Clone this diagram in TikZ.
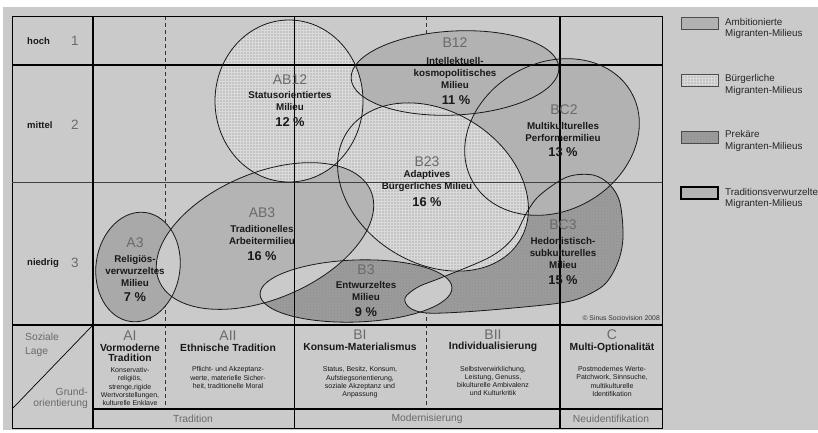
\documentclass[tikz,border=0pt]{standalone}
\usepackage{fontspec}
\usetikzlibrary{patterns}
\setmainfont{Liberation Sans}
\definecolor{bgc}{RGB}{202,202,202}
\definecolor{ambc}{RGB}{178,178,178}
\definecolor{prec}{RGB}{156,156,156}
\definecolor{trac}{RGB}{180,180,180}
\definecolor{codegray}{RGB}{106,106,106}
\colorlet{burgc}{bgc!97!black}
\colorlet{burgtex}{bgc!70!white}
\colorlet{ovlc}{bgc}
\newcommand\shAthree{(138,267) ellipse [x radius=42pt, y radius=55pt, rotate=-8]}
\newcommand\shABthree{(265,236) ellipse [x radius=115pt, y radius=63pt, rotate=23]}
\newcommand\shBthree{(356,291) ellipse [x radius=96pt, y radius=31pt, rotate=2]}
\newcommand\shBCthree{plot[smooth cycle, tension=0.55] coordinates {(405,298) (418,287) (443,277) (490,257) (513,238) (527,212) (540,195) (567,177) (593,175) (610,185) (620,203) (623,237) (618,262) (605,284) (583,297) (560,303) (513,308) (463,312) (427,313) (410,308)}}
\newcommand\shBCtwo{(552,137) ellipse [x radius=91pt, y radius=74pt, rotate=29]}
\newcommand\shBtwelve{(455,73) ellipse [x radius=104pt, y radius=42pt, rotate=3]}
\newcommand\shABtwelve{(289,101) ellipse [x radius=74pt, y radius=81pt]}
\newcommand\shBtwentythree{(433,187) ellipse [x radius=102pt, y radius=76pt, rotate=-32]}
\begin{document}
\begin{tikzpicture}[x=1pt,y=-1pt,
  outl/.style={draw=black!90, line width=0.8pt},
  gridthin/.style={draw=black, line width=0.7pt},
  gridthick/.style={draw=black, line width=1.5pt},
  gridmid/.style={draw=black, line width=1.1pt},
  dashedgrid/.style={draw=black!80, line width=0.6pt, dash pattern=on 4pt off 3pt},
  dotted texture/.style={pattern=crosshatch dots, pattern color=black!45},
  grid texture/.style={pattern=grid, pattern color=burgtex},
  burg fill/.style={fill=burgc},
  codetxt/.style={text=codegray, font=\fontsize{14}{16}\selectfont, inner sep=0pt},
  nametxt/.style={text=black!90, font=\fontsize{9.8}{12}\selectfont\bfseries, align=center, inner sep=0pt},
  pcttxt/.style={text=black!90, font=\fontsize{12.8}{14}\selectfont\bfseries, inner sep=0pt},
  headtxt/.style={text=black!90, font=\fontsize{10.3}{10.5}\selectfont\bfseries, align=center, inner sep=0pt},
  desctxt/.style={text=black!90, font=\fontsize{7}{8.3}\selectfont, align=center, inner sep=0pt},
  graytxt/.style={text=codegray, font=\fontsize{10.3}{13.5}\selectfont, inner sep=0pt},
  rowtxt/.style={text=black!90, font=\fontsize{9.5}{11}\selectfont\bfseries, inner sep=0pt, anchor=west},
  rownum/.style={text=codegray, font=\fontsize{13.5}{15}\selectfont, inner sep=0pt},
  legbox/.style={draw=black!70, line width=0.6pt, minimum width=37pt, minimum height=12pt, inner sep=0pt},
  legtxt/.style={font=\fontsize{9.8}{11.5}\selectfont, align=left, anchor=west, inner sep=0pt, text=black!85},
]
\useasboundingbox (0,0) rectangle (818,432);
\fill[white] (0,0) rectangle (818,432);
\fill[bgc] (3,7) rectangle (818,430);

% dashed lines (beneath shapes)
\draw[dashedgrid] (165,16) -- (165,409);
\draw[dashedgrid] (426,16) -- (426,409);

% fills
\fill[prec] \shBCthree;
\fill[dotted texture] \shBCthree;
\fill[prec] \shBthree;
\fill[dotted texture] \shBthree;
\fill[ambc] \shBtwelve;
\fill[ambc] \shBCtwo;
\path[burg fill] \shBtwentythree;
\path[grid texture] \shBtwentythree;
\fill[trac!94!black] \shAthree;
\fill[trac] \shABthree;
\begin{scope}
  \clip \shAthree;
  \fill[ovlc] \shABthree;
\end{scope}
\begin{scope}
  \clip \shBthree;
  \fill[ovlc] \shABthree;
\end{scope}
\begin{scope}
  \clip \shBthree;
  \fill[ovlc] \shBCthree;
\end{scope}
\path[burg fill] \shABtwelve;
\path[grid texture] \shABtwelve;

% table grid
\draw[gridthin] (12,16) rectangle (662,428);
\draw[gridthick] (12,65) -- (662,65);
\draw[draw=black!75, line width=0.7pt] (12,182) -- (662,182);
\draw[gridmid] (12,325) -- (662,325);
\draw[gridmid] (93,409) -- (662,409);
\draw[gridmid] (93,16) -- (93,428);
\draw[gridthin] (294,16) -- (294,428);
\draw[gridthick] (560,16) -- (560,428);
\draw[gridthin] (13,408) -- (92,326);

% outlines
\draw[outl] \shBCthree;
\draw[outl] \shBthree;
\draw[outl] \shBtwelve;
\draw[outl] \shBCtwo;
\draw[outl] \shBtwentythree;
\draw[outl] \shAthree;
\draw[outl] \shABthree;
\draw[outl] \shABtwelve;

% row labels
\node[rowtxt] (hoch) at (27,41) {hoch};
\node[rownum] (n1) at (75,41) {1};
\node[rowtxt] (mittel) at (27,125) {mittel};
\node[rownum] (n2) at (75,125) {2};
\node[rowtxt] (niedrig) at (27,263) {niedrig};
\node[rownum] (n3) at (75,263) {3};
\node[graytxt, anchor=west, align=left] (sozlage) at (25,345) {Soziale\\Lage};
\node[graytxt, anchor=east, align=right, font=\fontsize{10.3}{11.5}\selectfont] (grund) at (88,398.5) {Grund-\\orientierung};

% milieu labels
\node[codetxt] (ab12c) at (290,80) {AB12};
\node[nametxt] (ab12n) at (290,101) {Statusorientiertes\\Milieu};
\node[pcttxt] (ab12p) at (290,122) {12 \%};

\node[codetxt] (b12c) at (455,43) {B12};
\node[nametxt] (b12n) at (455,73) {Intellektuell-\\kosmopolitisches\\Milieu};
\node[pcttxt] (b12p) at (456,100) {11 \%};

\node[codetxt] (b23c) at (427,162) {B23};
\node[nametxt] (b23n) at (427,181) {Adaptives\\Bürgerliches Milieu};
\node[pcttxt] (b23p) at (427,202) {16 \%};

\node[codetxt] (bc2c) at (564,110) {BC2};
\node[nametxt] (bc2n) at (563,131.5) {Multikulturelles\\Performermilieu};
\node[pcttxt] (bc2p) at (563,152) {13 \%};

\node[codetxt] (bc3c) at (563,225) {BC3};
\node[nametxt] (bc3n) at (563,252.5) {Hedonistisch-\\subkulturelles\\Milieu};
\node[pcttxt] (bc3p) at (563,280) {15 \%};

\node[codetxt] (b3c) at (366,270) {B3};
\node[nametxt] (b3n) at (366,291) {Entwurzeltes\\Milieu};
\node[pcttxt] (b3p) at (366,312) {9 \%};

\node[codetxt] (ab3c) at (262,213) {AB3};
\node[nametxt] (ab3n) at (262,235) {Traditionelles\\Arbeitermilieu};
\node[pcttxt] (ab3p) at (262,256) {16 \%};

\node[codetxt] (a3c) at (135,243) {A3};
\node[nametxt] (a3n) at (135,270.5) {Religiös-\\verwurzeltes\\Milieu};
\node[pcttxt] (a3p) at (135,297) {7 \%};

\node[text=black!80, font=\fontsize{6.8}{8}\selectfont, anchor=east, inner sep=0pt] (copy) at (660,318) {© Sinus Sociovision 2008};

% bottom cells
\node[codetxt] (aic) at (130,336) {AI};
\node[headtxt] (aih) at (130,353) {Vormoderne\\Tradition};
\node[desctxt] (aid) at (130,386.5) {Konservativ-\\religiös,\\strenge,rigide\\Wertvorstellungen,\\kulturelle Enklave};

\node[codetxt] (aiic) at (228,336) {AII};
\node[headtxt] (aiih) at (228,348) {Ethnische Tradition};
\node[desctxt] (aiid) at (228,378) {Pflicht- und Akzeptanz-\\werte, materielle Sicher-\\heit, traditionelle Moral};

\node[codetxt] (bic) at (360,335) {BI};
\node[headtxt] (bih) at (360,347) {Konsum-Materialismus};
\node[desctxt] (bid) at (360,382.5) {Status, Besitz, Konsum,\\Aufstiegsorientierung,\\soziale Akzeptanz und\\Anpassung};

\node[codetxt] (biic) at (493,335) {BII};
\node[headtxt] (biih) at (493,347) {Individualisierung};
\node[desctxt] (biid) at (493,381) {Selbstverwirklichung,\\Leistung, Genuss,\\bikulturelle Ambivalenz\\und Kulturkritik};

\node[codetxt] (cc) at (612,335) {C};
\node[headtxt] (ch) at (612,348) {Multi-Optionalität};
\node[desctxt] (cd) at (612,381.5) {Postmodernes Werte-\\Patchwork, Sinnsuche,\\multikulturelle\\Identifikation};

\node[graytxt] (trad) at (193,419) {Tradition};
\node[graytxt] (modern) at (427,419) {Modernisierung};
\node[graytxt] (neuid) at (611,419) {Neuidentifikation};

% legend
\node[legbox, fill=ambc] (lg1) at (699.5,23) {};
\node[legtxt] (lt1) at (725,28.5) {Ambitionierte\\Migranten-Milieus};
\node[legbox, burg fill] (lg2) at (699.5,80) {};
\node[legbox, grid texture] (lg2t) at (699.5,80) {};
\node[legtxt] (lt2) at (725,85) {Bürgerliche\\Migranten-Milieus};
\node[legbox, fill=prec] (lg3) at (699.5,137) {};
\node[legbox, dotted texture] (lg3t) at (699.5,137) {};
\node[legtxt] (lt3) at (725,141) {Prekäre\\Migranten-Milieus};
\node[legbox, fill=trac, draw=black, line width=1.1pt] (lg4) at (699.5,193) {};
\node[legtxt] (lt4) at (725,198.5) {Traditionsverwurzelte\\Migranten-Milieus};
\end{tikzpicture}
\end{document}
